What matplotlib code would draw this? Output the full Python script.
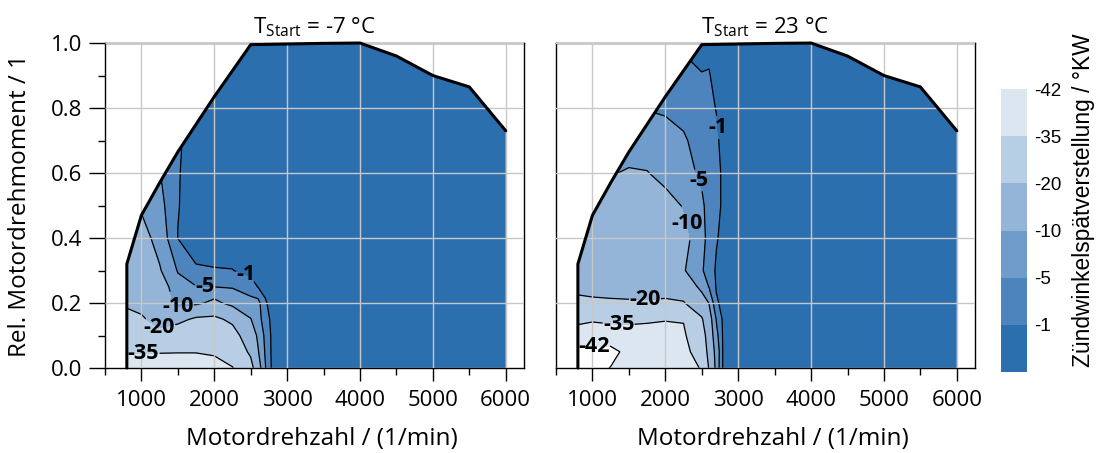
import numpy as np
import matplotlib
matplotlib.use('Agg')
import matplotlib.pyplot as plt
from matplotlib.patches import Polygon
from matplotlib.ticker import MultipleLocator, FormatStrFormatter

plt.rcParams['font.family'] = ['Open Sans', 'DejaVu Sans']
plt.rcParams['axes.unicode_minus'] = False
plt.rcParams['mathtext.default'] = 'regular'

# engine speed / relative torque grid (1/min, -)
speed = [800, 1000, 1250, 1500, 1750, 2000, 2250, 2500, 2600, 2700, 2800, 3000, 4000, 6000]
torque = [0.0, 0.05, 0.1, 0.15, 0.2, 0.25, 0.3, 0.4, 0.5, 0.6, 0.7, 0.8, 0.9, 1.0]

# full load curve
fl_speed = [800, 800, 1000, 1250, 1500, 2000, 2500, 3000, 3500, 4000, 4500, 5000, 5500, 6000]
fl_torque = [0.0, 0.32, 0.47, 0.57, 0.665, 0.835, 0.995, 0.997, 0.999, 1.0, 0.96, 0.90, 0.865, 0.73]

# ignition retard in degKW, rows = torque, cols = speed
retard_cold = [
    [-38, -38, -38, -39, -39, -38, -35.5, -24, -13, -5.3, 0, 0, 0, 0],
    [-34.7, -34.7, -34.7, -34.7, -34.7, -34, -29, -18, -10.5, -4.5, 0, 0, 0, 0],
    [-29, -28, -21.5, -26, -28, -28, -24, -14, -9, -4, 0, 0, 0, 0],
    [-23.2, -20.6, -18.3, -17.5, -21.5, -22, -18, -10.2, -7, -2.5, 0, 0, 0, 0],
    [-18.5, -18.6, -15.8, -8.1, -8.7, -11.7, -8, -7, -6.5, -1.3, 0, 0, 0, 0],
    [-17.8, -17, -13.3, -6.7, -5.2, -4.95, -4.7, -2.2, -0.9, -0.3, 0, 0, 0, 0],
    [-16.2, -15.4, -10.5, -4.7, -1.25, -1.11, -1.05, -0.3, 0, 0, 0, 0, 0, 0],
    [-14, -12.2, -8, -0.95, 0, 0, 0, 0, 0, 0, 0, 0, 0, 0],
    [-11.5, -9.3, -6.5, -1.1, 0, 0, 0, 0, 0, 0, 0, 0, 0, 0],
    [-10.5, -7, -5.2, -1.15, 0, 0, 0, 0, 0, 0, 0, 0, 0, 0],
    [-9, -5.5, -4.7, -1.3, 0, 0, 0, 0, 0, 0, 0, 0, 0, 0],
    [-8, -4.5, -3.5, -1.2, 0, 0, 0, 0, 0, 0, 0, 0, 0, 0],
    [-7, -4, -3, -1, 0, 0, 0, 0, 0, 0, 0, 0, 0, 0],
    [-6, -3.5, -2.5, -0.8, 0, 0, 0, 0, 0, 0, 0, 0, 0, 0],
]

retard_warm = [
    [-43, -43, -41.9, -40, -39, -39, -38, -34.5, -19, -8, 0, 0, 0, 0],
    [-43, -43, -43, -41, -39, -39, -36.2, -33, -14.4, -8.3, 0, 0, 0, 0],
    [-40, -40, -40, -38, -38, -38, -36.5, -26, -14, -6.5, 0, 0, 0, 0],
    [-32.5, -34, -33, -33.5, -34, -34.6, -34.5, -21, -13, -4.7, 0, 0, 0, 0],
    [-21.5, -21, -20.8, -20.6, -20.5, -21, -20.5, -14, -9.8, -1.5, 0, 0, 0, 0],
    [-18.5, -18.3, -18, -18, -18, -17.5, -16, -8, -4.8, -0.7, 0, 0, 0, 0],
    [-17, -16.8, -16.5, -16.5, -16.5, -16, -10.5, -5.5, -3, -0.5, 0, 0, 0, 0],
    [-15, -14.5, -14, -14, -14, -14, -12, -6.5, -3.5, -1.3, 0, 0, 0, 0],
    [-13, -12.5, -12, -12.5, -12.5, -11.8, -9.7, -6, -3, -2.5, 0, 0, 0, 0],
    [-11, -10.5, -9.8, -10.3, -10.2, -8.5, -7, -4, -2.5, -2.5, 0, 0, 0, 0],
    [-9, -9, -8, -8.5, -7.5, -6.5, -5.6, -3, -2, -1.5, 0, 0, 0, 0],
    [-7, -7, -6.5, -5.2, -4.8, -4.5, -3.5, -2, -1.6, -0.9, 0, 0, 0, 0],
    [-5, -5, -5, -4, -3.5, -2.5, -1.6, -1.05, -1.1, -0.5, 0, 0, 0, 0],
    [-4, -4, -4, -3, -2.5, -1.5, -0.7, -0.6, -0.6, -0.3, 0, 0, 0, 0],
]

levels = [-42, -35, -20, -10, -5, -1, 0]
colors = ['#dbe6f1', '#b8cee5', '#94b5d8', '#6f9cca', '#4d84bd', '#2c6fae']
titles = [r'T$_{Start}$ = -7 °C', r'T$_{Start}$ = 23 °C']

label_pos = [
    [(2430, 0.28), (1870, 0.25), (1500, 0.19), (1240, 0.12), (1030, 0.04)],
    [(2720, 0.74), (2480, 0.58), (2360, 0.45), (1720, 0.205), (1360, 0.14), (1020, 0.06)],
]

fig = plt.figure(figsize=(10.98, 4.53), dpi=100)
ax1 = fig.add_axes([0.0956, 0.1876, 0.3816, 0.7174])
ax2 = fig.add_axes([0.5064, 0.1876, 0.3816, 0.7174])
cax = fig.add_axes([0.9117, 0.1788, 0.0237, 0.6247])

X, Y = np.meshgrid(speed, torque)
boundary = list(zip(fl_speed, fl_torque)) + [(6000, 0.0)]

for i, (ax, Z) in enumerate(zip([ax1, ax2], [retard_cold, retard_warm])):
    Z = np.array(Z)
    clip = Polygon(boundary, closed=True, transform=ax.transData, facecolor='none', edgecolor='none')
    ax.add_patch(clip)
    cf = ax.contourf(X, Y, Z, levels=levels, colors=colors, zorder=1)
    cf.set_clip_path(clip)
    cs = ax.contour(X, Y, Z, levels=levels[:-1], colors='k', linewidths=0.9,
                    linestyles='solid', zorder=2)
    cs.set_clip_path(clip)
    lbls = ax.clabel(cs, fmt='%d', fontsize=15.5, inline=True, inline_spacing=2,
                     manual=label_pos[i])
    for t in lbls:
        t.set_fontweight('bold')
        t.set_rotation(0)
    ax.plot(fl_speed, fl_torque, color='k', lw=2.2, zorder=5, clip_on=False,
            solid_capstyle='round')

    ax.set_xlim(500, 6250)
    ax.set_ylim(0, 1)
    ax.xaxis.set_major_locator(MultipleLocator(1000))
    ax.xaxis.set_minor_locator(MultipleLocator(500))
    ax.yaxis.set_major_locator(MultipleLocator(0.2))
    ax.yaxis.set_minor_locator(MultipleLocator(0.1))
    ax.set_axisbelow(False)
    ax.grid(True, which='major', color='#c8c8c8', linewidth=1.0, zorder=3)
    ax.tick_params(axis='x', which='major', direction='out', length=9, width=1,
                   labelsize=16, pad=7)
    ax.tick_params(axis='y', which='major', direction='out', length=11.5, width=1,
                   labelsize=16, pad=5)
    ax.tick_params(which='minor', direction='out', length=4.8, width=1)
    for sp in ax.spines.values():
        sp.set_linewidth(1.0)
    ax.set_xlabel('Motordrehzahl / (1/min)', fontsize=17.5)
    ax.xaxis.set_label_coords(0.518, -0.18)
    ax.set_title(titles[i], fontsize=16, pad=7)

ax1.yaxis.set_major_formatter(FormatStrFormatter('%.1f'))
ax1.set_ylabel('Rel. Motordrehmoment / 1', fontsize=17.5)
ax1.yaxis.set_label_coords(-0.175, 0.5)
ax2.tick_params(axis='y', which='both', left=False, labelleft=False)

cb = fig.colorbar(cf, cax=cax, ticks=levels[:-1])
cax.invert_yaxis()
cb.outline.set_visible(False)
cax.tick_params(length=0, pad=5)
for t in cax.get_yticklabels():
    t.set_fontfamily('Liberation Sans')
    t.set_fontsize(13.5)
fig.text(0.9865, 1 - 200 / 453, 'Zündwinkelspätverstellung / °KW', rotation=90,
         ha='center', va='center', fontsize=16.4, family='Liberation Sans')

fig.savefig('out.png', dpi=100)
